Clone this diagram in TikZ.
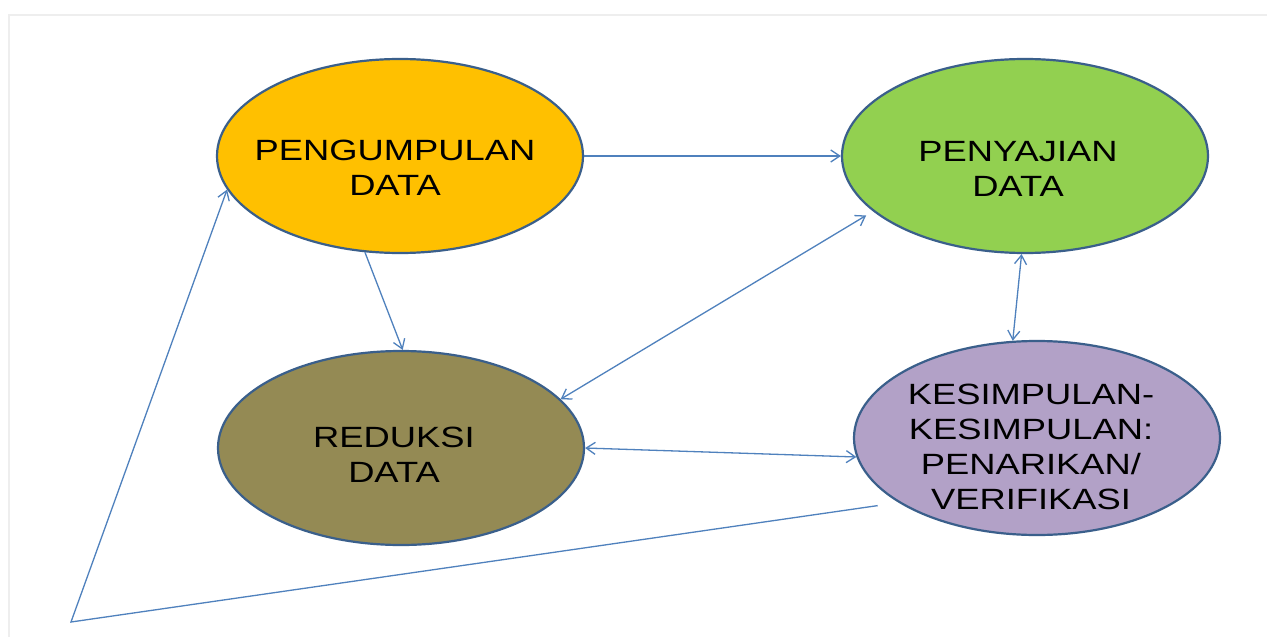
\documentclass[tikz,border=0pt]{standalone}
\usepackage{fontspec}
\newfontfamily\lblfont[FakeStretch=1.24]{Liberation Sans}
\usetikzlibrary{arrows.meta,shapes.geometric}
\definecolor{cOrange}{HTML}{FFC000}
\definecolor{cGreen}{HTML}{92D050}
\definecolor{cOlive}{HTML}{948A54}
\definecolor{cLilac}{HTML}{B2A1C7}
\definecolor{cEdge}{HTML}{3A5F8B}
\definecolor{cLine}{HTML}{4F81BD}
\definecolor{cFrame}{HTML}{EEEEEE}
\begin{document}
\begin{tikzpicture}[x=1pt,y=-1pt,
  ell/.style={ellipse, draw=cEdge, line width=2.2pt, minimum width=366pt, minimum height=194pt, inner sep=0pt},
  lbl/.style={align=center, font=\lblfont\fontsize{29.3}{35}\selectfont, inner sep=0pt, text=black},
  tip/.style={Straight Barb[length=9pt,width=12pt]},
  conn/.style={draw=cLine, line width=1.3pt, -{Straight Barb[length=9pt,width=12pt]}},
  biconn/.style={draw=cLine, line width=1.3pt, {Straight Barb[length=9pt,width=12pt]}-{Straight Barb[length=9pt,width=12pt]}},
]
\useasboundingbox (0,0) rectangle (1267,637);
\fill[white] (0,0) rectangle (1267,637);
\draw[cFrame, line width=1.5pt] (9,637) -- (9,15) -- (1267,15);

\node[ell, fill=cOrange] (peng) at (400,156) {};
\node[ell, fill=cGreen] (peny) at (1025,156) {};
\node[ell, fill=cOlive] (red) at (401,448) {};
\node[ell, fill=cLilac] (kes) at (1037,438) {};

\node[lbl] (pengT) at (395,168) {PENGUMPULAN\\DATA};
\node[lbl] (penyT) at (1018,168.5) {PENYAJIAN\\DATA};
\node[lbl] (redT) at (394,455) {REDUKSI\\DATA};
\node[lbl] (kesT) at (1031,447) {KESIMPULAN-\\KESIMPULAN:\\PENARIKAN/\\VERIFIKASI};

\coordinate (corner) at (71,622);

\draw[conn] (peng.east) -- (peny.west);
\draw[conn] (peng.250) -- (red.89);
\draw[biconn, shorten >=8pt] (red.17) -- (peny.200);
\draw[biconn] (peny.268) -- (kes.104);
\draw[biconn] (red.east) -- (kes.186);
\draw[conn, shorten <=21pt] (kes.205) -- (corner) -- (peng.191);
\end{tikzpicture}
\end{document}
